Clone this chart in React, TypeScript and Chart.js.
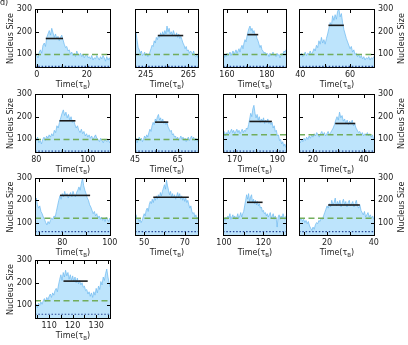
import React, { useEffect, useRef } from "react";
import { Chart, registerables } from "chart.js";

Chart.register(...registerables);

// ---------------- data ----------------
const STEP = 0.5; // sampling interval of the traces (time units)

const p1Values = [100, 95, 85, 110, 120, 105, 140, 150, 135, 175, 190, 205, 185, 215, 195, 175, 190, 170, 180, 160, 175, 185, 165, 145, 130, 135, 115, 120, 100, 110, 95, 105, 90, 115, 100, 95, 105, 90, 100, 85, 95, 100, 85, 90, 80, 95, 75, 85, 80, 95, 85, 75, 90, 80, 95, 85, 70, 90, 75, 85, 70];
const p2Values = [185, 195, 160, 130, 120, 105, 115, 95, 100, 110, 95, 105, 90, 100, 110, 125, 140, 135, 160, 150, 175, 165, 185, 175, 195, 180, 200, 185, 205, 190, 225, 200, 215, 190, 200, 185, 205, 190, 180, 195, 175, 190, 170, 180, 165, 150, 140, 125, 135, 115, 120, 105, 115, 110, 100, 115, 95, 90, 100, 85, 90];
const p3Values = [95, 85, 100, 90, 105, 95, 100, 110, 95, 105, 115, 100, 110, 120, 105, 115, 125, 110, 130, 140, 125, 150, 165, 155, 180, 200, 215, 225, 205, 215, 195, 205, 185, 190, 170, 160, 145, 130, 140, 120, 115, 105, 110, 95, 105, 100, 90, 105, 95, 100, 110, 95, 100, 90, 105, 95, 100, 85, 95, 105, 100, 115, 110, 120, 115];
const p4Values = [100, 95, 105, 90, 100, 110, 95, 105, 100, 115, 100, 110, 125, 115, 140, 130, 160, 145, 175, 150, 165, 145, 170, 190, 215, 240, 225, 270, 250, 275, 255, 290, 300, 265, 280, 240, 210, 190, 170, 155, 140, 125, 135, 110, 120, 100, 105, 90, 100, 85, 95, 80, 90, 75, 85, 80, 90, 75, 85, 80, 90, 85];
const p5Values = [105, 95, 110, 85, 95, 80, 100, 110, 95, 115, 105, 120, 110, 125, 115, 140, 130, 160, 150, 175, 195, 215, 230, 205, 220, 195, 210, 185, 200, 175, 185, 165, 150, 160, 140, 130, 145, 125, 135, 115, 125, 110, 120, 105, 115, 100, 110, 120, 105, 100, 90, 105, 95, 85, 100, 95, 90, 100, 85, 95];
const p6Values = [95, 105, 85, 100, 110, 95, 105, 90, 100, 115, 105, 120, 110, 130, 145, 135, 160, 175, 165, 190, 180, 200, 210, 185, 195, 175, 190, 170, 180, 165, 175, 155, 145, 135, 140, 120, 125, 110, 115, 100, 110, 95, 105, 115, 100, 110, 95, 105, 90, 100, 110, 95, 105, 115, 100, 110, 95, 105, 100, 90, 100];
const p7Values = [125, 135, 115, 130, 120, 140, 125, 135, 145, 130, 140, 125, 135, 145, 130, 140, 125, 135, 145, 130, 140, 135, 150, 145, 165, 190, 215, 200, 235, 250, 215, 195, 210, 185, 200, 175, 190, 180, 195, 170, 185, 175, 190, 170, 180, 165, 175, 150, 160, 135, 140, 115, 120, 95, 100, 80, 90, 70, 80, 65, 75];
const p8Values = [95, 85, 100, 90, 105, 95, 110, 100, 115, 105, 120, 110, 125, 115, 130, 120, 110, 125, 135, 120, 130, 115, 125, 135, 120, 130, 140, 150, 165, 185, 200, 185, 220, 195, 205, 180, 190, 170, 185, 165, 180, 170, 185, 160, 170, 150, 140, 130, 135, 120, 130, 115, 125, 120, 130, 115, 125, 110, 120, 100, 105];
const p9Values = [195, 210, 180, 165, 175, 150, 140, 125, 115, 100, 90, 105, 95, 110, 120, 115, 130, 125, 150, 175, 200, 220, 205, 230, 215, 240, 220, 230, 210, 225, 235, 215, 240, 225, 215, 235, 245, 260, 245, 275, 300, 265, 245, 230, 210, 200, 180, 170, 155, 140, 150, 130, 140, 120, 130, 115, 125, 110, 120, 105, 125, 115, 105, 120, 110];
const p10Values = [125, 135, 115, 120, 105, 115, 100, 110, 125, 140, 130, 155, 165, 150, 180, 195, 185, 205, 190, 210, 200, 220, 205, 225, 210, 235, 220, 240, 255, 270, 250, 290, 265, 245, 225, 240, 215, 230, 210, 225, 205, 220, 235, 215, 230, 205, 220, 200, 215, 195, 210, 190, 200, 180, 165, 175, 150, 140, 145, 125, 135, 115, 125, 110];
const p11Values = [120, 110, 125, 115, 130, 120, 140, 115, 125, 135, 120, 130, 115, 125, 140, 120, 130, 145, 125, 140, 150, 175, 200, 225, 205, 230, 195, 215, 225, 190, 205, 185, 200, 180, 195, 175, 185, 165, 170, 150, 155, 140, 145, 130, 140, 125, 135, 145, 120, 130, 140, 115, 130, 120, 80, 125, 135, 115, 130, 120, 140, 125, 115, 130, 120];
const p12Values = [125, 110, 120, 105, 115, 100, 110, 95, 105, 85, 75, 65, 80, 70, 90, 100, 95, 110, 105, 120, 115, 130, 145, 160, 175, 165, 185, 170, 200, 180, 190, 210, 175, 195, 180, 200, 170, 190, 205, 180, 195, 170, 190, 200, 175, 185, 195, 170, 185, 200, 175, 165, 180, 155, 145, 135, 150, 125, 135, 145, 125, 135, 120, 130, 115, 110];
const p13Values = [95, 105, 90, 110, 100, 115, 105, 120, 130, 115, 135, 125, 140, 150, 135, 155, 145, 165, 175, 160, 190, 215, 235, 210, 245, 225, 255, 230, 245, 215, 235, 210, 230, 205, 225, 200, 220, 195, 210, 190, 200, 180, 185, 165, 170, 150, 160, 140, 155, 135, 160, 145, 175, 155, 185, 170, 205, 190, 225, 210, 240, 260, 225, 200, 180];

const seriesValues = [p1Values, p2Values, p3Values, p4Values, p5Values, p6Values, p7Values, p8Values, p9Values, p10Values, p11Values, p12Values, p13Values];
const seriesStarts = [-0.5, 240, 158, 39.5, 79.5, 45, 164.5, 14.5, 68.5, 45.5, 100, 8, 104];

const xMins = [-0.7, 240, 158, 39.5, 79.5, 45, 164.5, 14.5, 68.5, 45.5, 99.5, 8, 104];
const xMaxs = [29.7, 270, 190, 70, 109, 75, 194.5, 44.5, 100.5, 77, 132, 40.5, 136.3];
const xTickLabels = [[0, 20], [245, 265], [160, 180], [40, 60], [80, 100], [45, 65], [170, 190], [20, 40], [80, 100], [50, 70], [100, 120], [20, 40], [110, 120, 130]];
const xTickMarks = [[0, 10, 20], [245, 255, 265], [160, 170, 180], [40, 50, 60], [80, 90, 100], [45, 55, 65], [170, 180, 190], [20, 30, 40], [70, 80, 90], [50, 60, 70], [110, 120, 130], [10, 20, 30, 40], [105, 110, 115, 120, 125, 130, 135]];

const plateauLevels = [170, 183, 187, 228, 182, 176, 179, 170, 222, 214, 191, 179, 207];
const plateauFrom = [3.6, 250.7, 170.2, 51.3, 89, 54.4, 176.9, 28.8, 79, 54.5, 111.7, 20.5, 116.1];
const plateauTo = [10.5, 262.6, 175.6, 57.5, 95.2, 60.6, 187.4, 36.7, 91.7, 72, 119.6, 34, 126.4];
const baselineLevels = [100, 100, 100, 100, 100, 100, 120, 120, 120, 120, 120, 120, 120];
const floorLevels = [47, 47, 47, 47, 48, 48, 48, 48, 60, 60, 60, 60, 61];

const yMin = 40;
const yMax = 300;
const yTickValues = [100, 200, 300];

const yTitle = "Nucleus Size";
const panelTag = "d)";

// ---------------- layout / style ----------------
const FONT = '"DejaVu Sans", sans-serif';
const TEXT = "#222";
const COL_LEFT = [35, 123, 211, 299];
const ROW_TOP = [9, 94, 178, 260];
const ROW_H = [59, 59, 58, 59];
const PLOT_W = 76;

Chart.defaults.font.family = FONT;

function drawTimeTitle(ctx: CanvasRenderingContext2D, cx: number, cy: number) {
  const main = "8px " + FONT;
  const sub = "5.5px " + FONT;
  const a = "Time(τ";
  const b = "B";
  const c = ")";
  ctx.font = main;
  const wa = ctx.measureText(a).width;
  const wc = ctx.measureText(c).width;
  ctx.font = sub;
  const wb = ctx.measureText(b).width;
  let x = cx - (wa + wb + wc) / 2;
  ctx.textAlign = "left";
  ctx.textBaseline = "middle";
  ctx.fillStyle = TEXT;
  ctx.font = main;
  ctx.fillText(a, x, cy);
  x += wa;
  ctx.font = sub;
  ctx.fillText(b, x, cy + 2.5);
  x += wb;
  ctx.font = main;
  ctx.fillText(c, x, cy);
}

const panelDecor = {
  id: "panelDecor",
  afterDraw(chart: any, _args: any, opts: any) {
    const { ctx, chartArea: a } = chart;
    const xs = chart.scales.x;
    const ys = chart.scales.y;
    ctx.save();
    const L = Math.round(a.left) + 0.5;
    const R = Math.round(a.right) - 0.5;
    const T = Math.round(a.top) + 0.5;
    const B = Math.round(a.bottom) - 0.5;
    ctx.strokeStyle = "#000";
    ctx.lineWidth = 1;
    ctx.setLineDash([]);
    ctx.beginPath();
    for (const v of opts.xMarks) {
      const px = Math.round(xs.getPixelForValue(v)) + 0.5;
      if (px <= L + 1 || px >= R - 1) continue;
      ctx.moveTo(px, B);
      ctx.lineTo(px, B - 3.5);
      ctx.moveTo(px, T);
      ctx.lineTo(px, T + 3.5);
    }
    for (const v of yTickValues) {
      const py = Math.round(ys.getPixelForValue(v)) + 0.5;
      if (py <= T + 1 || py >= B - 1) continue;
      ctx.moveTo(L, py);
      ctx.lineTo(L + 3.5, py);
      ctx.moveTo(R, py);
      ctx.lineTo(R - 3.5, py);
    }
    ctx.stroke();
    ctx.strokeRect(L, T, R - L, B - T);

    drawTimeTitle(ctx, (a.left + a.right) / 2, a.bottom + 17);

    ctx.font = "8px " + FONT;
    ctx.fillStyle = TEXT;
    ctx.textAlign = "center";
    ctx.textBaseline = "middle";
    const mid = (a.top + a.bottom) / 2;
    if (opts.leftTitle) {
      ctx.save();
      ctx.translate(a.left - 24.5, mid);
      ctx.rotate(-Math.PI / 2);
      ctx.fillText(yTitle, 0, 0);
      ctx.restore();
    }
    if (opts.rightTitle) {
      ctx.save();
      ctx.translate(a.right + 26.5, mid);
      ctx.rotate(-Math.PI / 2);
      ctx.fillText(yTitle, 0, 0);
      ctx.restore();
    }
    if (opts.tag) {
      ctx.textAlign = "left";
      ctx.textBaseline = "alphabetic";
      ctx.fillText(panelTag, 0, 5);
    }
    ctx.restore();
  },
};

function geometry(i: number) {
  const row = Math.floor(i / 4);
  const col = i % 4;
  const padT = row === 0 ? 9 : 8;
  const padB = 26;
  const padL = col === 0 ? 35 : 12;
  const padR = col === 3 ? 33 : 12;
  const h = ROW_H[row];
  return {
    row,
    col,
    padT,
    padB,
    padL,
    padR,
    left: COL_LEFT[col] - padL,
    top: ROW_TOP[row] - padT,
    w: PLOT_W + padL + padR,
    h: h + padT + padB,
  };
}

function buildConfig(i: number, g: ReturnType<typeof geometry>): any {
  const start = seriesStarts[i];
  const trace = seriesValues[i].map((v, k) => ({ x: start + k * STEP, y: v }));
  const leftAxis = g.col === 0;
  const rightAxis = g.col === 3;
  const tickFont = { family: FONT, size: 8 };
  return {
    type: "line",
    data: {
      datasets: [
        {
          data: [
            { x: plateauFrom[i], y: plateauLevels[i] },
            { x: plateauTo[i], y: plateauLevels[i] },
          ],
          borderColor: "#1a1a1a",
          borderWidth: 1.6,
          pointRadius: 0,
          fill: false,
        },
        {
          data: [
            { x: xMins[i], y: baselineLevels[i] },
            { x: xMaxs[i], y: baselineLevels[i] },
          ],
          borderColor: "#72ad5c",
          borderWidth: 1.5,
          borderDash: [6, 3.5],
          pointRadius: 0,
          fill: false,
        },
        {
          data: [
            { x: xMins[i], y: floorLevels[i] },
            { x: xMaxs[i], y: floorLevels[i] },
          ],
          borderColor: "#27479a",
          borderWidth: 1.2,
          borderDash: [1.5, 1.8],
          pointRadius: 0,
          fill: false,
        },
        {
          data: trace,
          borderColor: "rgba(110,185,240,0.9)",
          borderWidth: 0.8,
          backgroundColor: "rgba(135,206,250,0.55)",
          fill: "start",
          pointRadius: 0,
          tension: 0,
        },
      ],
    },
    plugins: [panelDecor],
    options: {
      responsive: false,
      devicePixelRatio: 1,
      animation: false,
      events: [],
      layout: {
        padding: {
          top: g.padT,
          bottom: 0,
          left: leftAxis ? 0 : g.padL,
          right: rightAxis ? 0 : g.padR,
        },
      },
      plugins: {
        legend: { display: false },
        tooltip: { enabled: false },
        title: { display: false },
        panelDecor: {
          xMarks: xTickMarks[i],
          leftTitle: leftAxis,
          rightTitle: rightAxis && g.row < 3,
          tag: i === 0,
        },
      },
      scales: {
        x: {
          type: "linear",
          position: "bottom",
          min: xMins[i],
          max: xMaxs[i],
          grid: { display: false, drawTicks: false },
          border: { display: false },
          ticks: {
            autoSkip: false,
            maxRotation: 0,
            minRotation: 0,
            padding: 2,
            color: TEXT,
            font: tickFont,
          },
          afterBuildTicks: (s: any) => {
            s.ticks = xTickLabels[i].map((v) => ({ value: v }));
          },
          afterFit: (s: any) => {
            s.height = g.padB;
          },
        },
        y: {
          type: "linear",
          position: rightAxis ? "right" : "left",
          display: leftAxis || rightAxis,
          min: yMin,
          max: yMax,
          grid: { display: false, drawTicks: false },
          border: { display: false },
          ticks: {
            padding: 3,
            color: TEXT,
            font: tickFont,
          },
          afterBuildTicks: (s: any) => {
            s.ticks = yTickValues.map((v) => ({ value: v }));
          },
          afterFit: (s: any) => {
            s.width = rightAxis ? g.padR : g.padL;
          },
        },
      },
    },
  };
}

function Panel({ index }: { index: number }) {
  const ref = useRef<HTMLCanvasElement>(null);
  const g = geometry(index);
  useEffect(() => {
    if (!ref.current) return;
    const chart = new Chart(ref.current, buildConfig(index, g));
    return () => chart.destroy();
  }, [index]);
  return (
    <canvas
      ref={ref}
      width={g.w}
      height={g.h}
      style={{ position: "absolute", left: g.left, top: g.top, width: g.w, height: g.h }}
    />
  );
}

export default function App() {
  return (
    <div
      style={{
        position: "fixed",
        left: 0,
        top: 0,
        width: 408,
        height: 345,
        background: "#fff",
        overflow: "hidden",
      }}
    >
      {seriesValues.map((_, i) => (
        <Panel key={i} index={i} />
      ))}
    </div>
  );
}
